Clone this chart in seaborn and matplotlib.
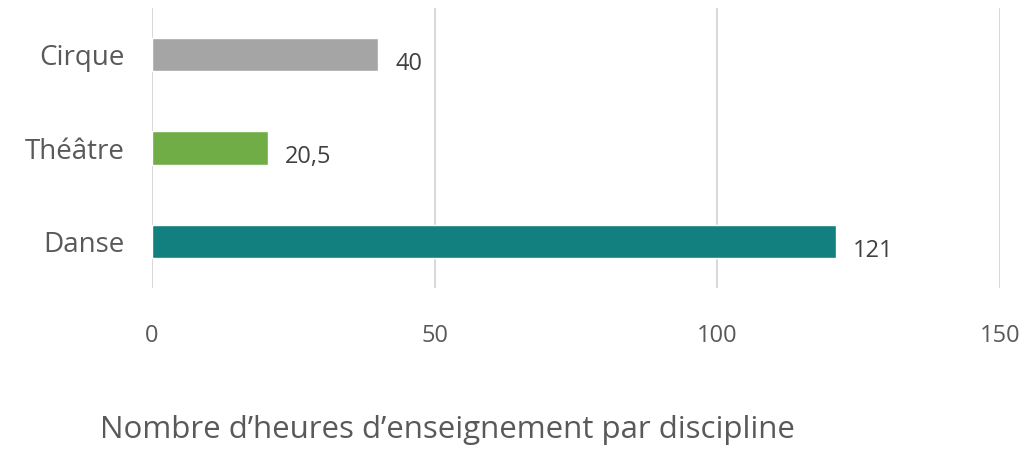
import matplotlib
matplotlib.use("Agg")
import matplotlib.pyplot as plt
import pandas as pd
import seaborn as sns

disciplines = ["Cirque", "Théâtre", "Danse"]
heures = [40, 20.5, 121]
labels = ["40", "20,5", "121"]
colors = ["#A5A5A5", "#70AD47", "#138080"]
x_ticks = [0, 50, 100, 150]

df = pd.DataFrame({"discipline": disciplines, "heures": heures})

sns.set_style("white")
plt.rcParams["font.family"] = ["Open Sans", "DejaVu Sans"]

fig = plt.figure(figsize=(10.3, 4.49), dpi=100)
ax = fig.add_axes([0.1476, 0.3586, 0.8233, 0.6235])

sns.barplot(data=df, y="discipline", x="heures", hue="discipline",
            palette=colors, orient="h", width=0.36, saturation=1,
            legend=False, ax=ax)

# value labels to the right of each bar
for i, (v, lab) in enumerate(zip(heures, labels)):
    ax.text(v + 3, i + 0.1, lab, va="center", ha="left",
            fontsize=17, color="#404040")

ax.set_xlim(0, 150)
ax.set_ylim(2.5, -0.5)
ax.set_xticks(x_ticks)
ax.set_xlabel("")
ax.set_ylabel("")
ax.xaxis.grid(True, color="#D9D9D9", linewidth=1.5)
ax.set_axisbelow(True)
for s in ax.spines.values():
    s.set_visible(False)
ax.tick_params(axis="x", length=0, pad=26, labelsize=17, labelcolor="#595959")
ax.tick_params(axis="y", length=0, pad=20, labelsize=20, labelcolor="#595959")

fig.text(100 / 1030, 1 - 430 / 449, "Nombre d\u2019heures d\u2019enseignement par discipline",
         fontsize=22.5, color="#595959", ha="left", va="center")

fig.savefig("out.png", dpi=100)
